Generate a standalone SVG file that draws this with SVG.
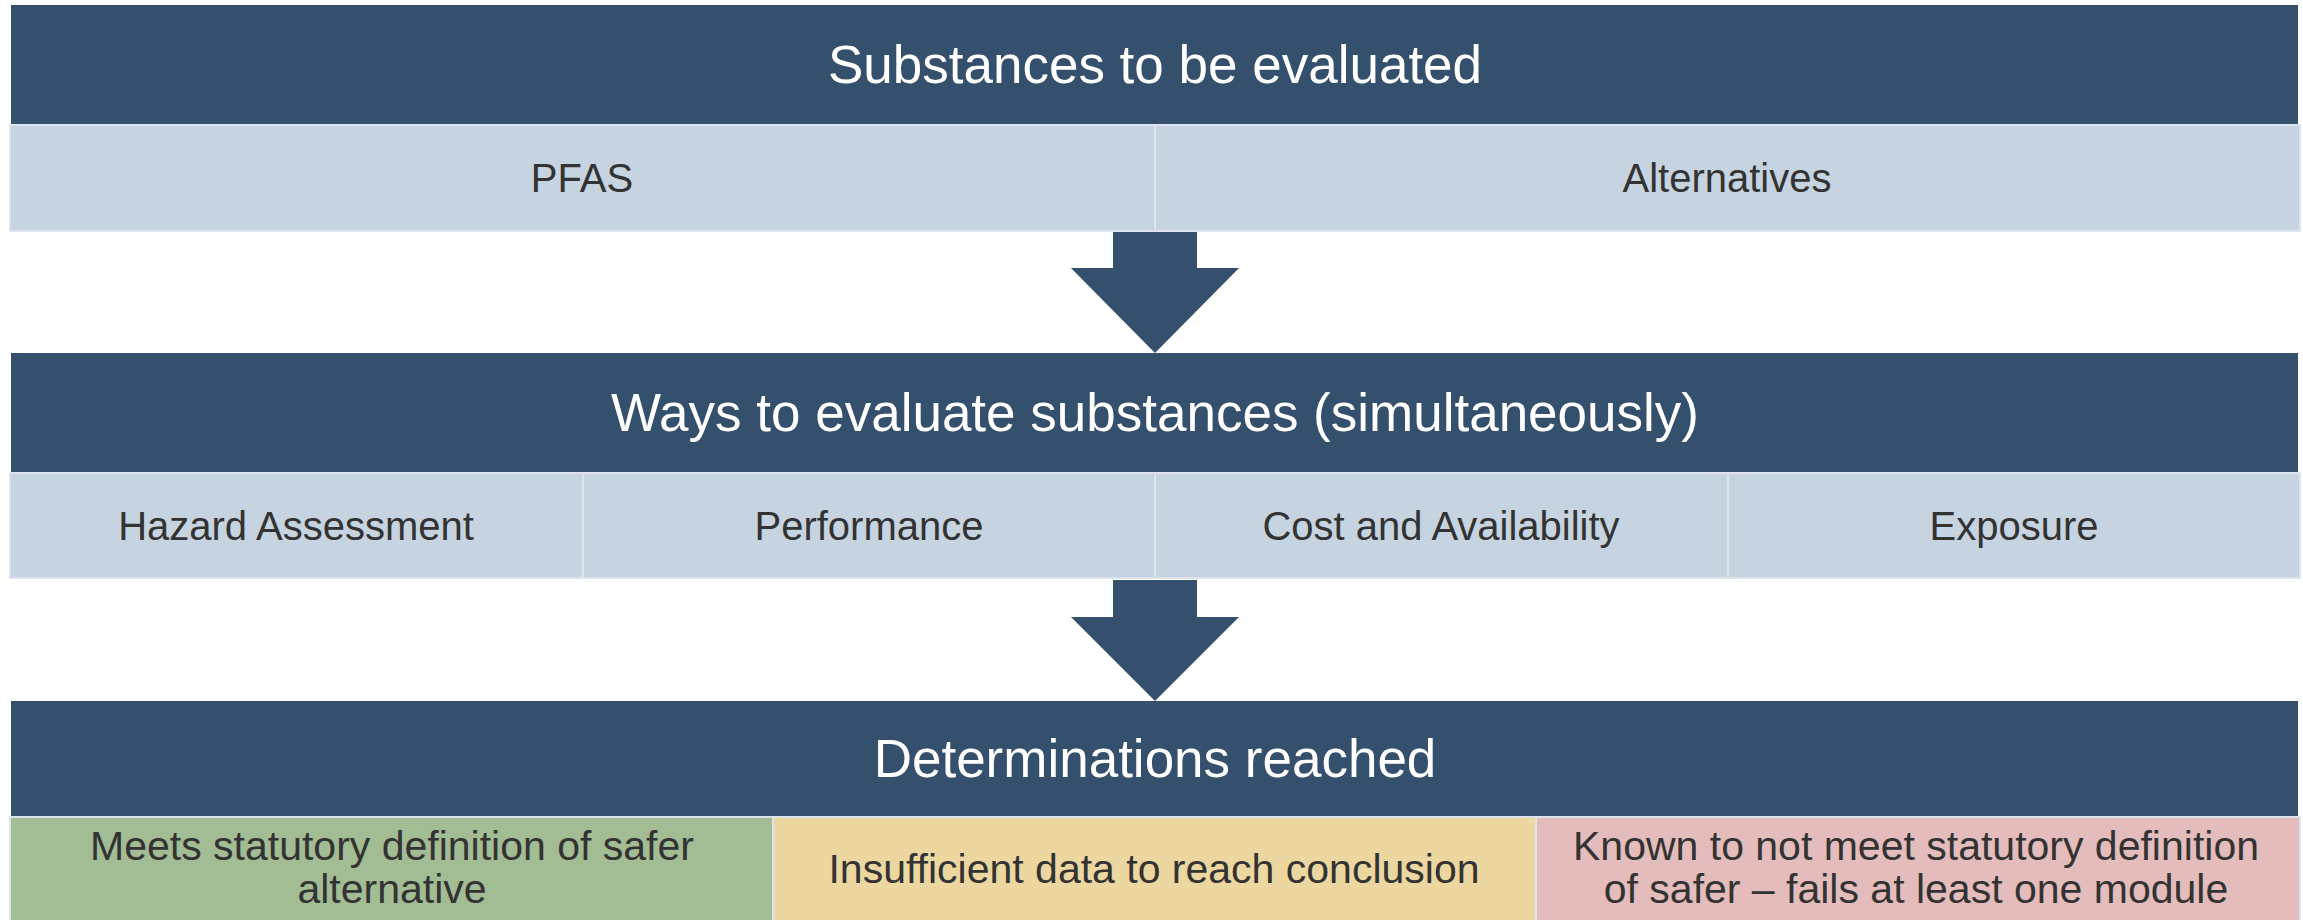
<svg xmlns="http://www.w3.org/2000/svg" width="2303" height="920" viewBox="0 0 2303 920">
  <style>
    .hdr { fill: #34506c; }
    .cell { fill: #c6d3e1; stroke: #dde4ee; stroke-width: 2; }
    .green { fill: #a2bc93; stroke: #dde4ee; stroke-width: 2; }
    .yellow { fill: #ebd79f; stroke: #dde4ee; stroke-width: 2; }
    .pink { fill: #e4bcbc; stroke: #dde4ee; stroke-width: 2; }
    .title { font-family: "Liberation Sans", Arial, sans-serif; font-size: 53px; fill: #ffffff; text-anchor: middle; }
    .lbl { font-family: "Liberation Sans", Arial, sans-serif; font-size: 40px; fill: #333333; text-anchor: middle; }
    .lbl2 { font-family: "Liberation Sans", Arial, sans-serif; font-size: 41px; fill: #333333; text-anchor: middle; }
    .arrow { fill: #34506c; }
  </style>
  <rect width="2303" height="920" fill="#ffffff"/>

  <g id="section1">
    <rect class="hdr" x="11" y="5" width="2287" height="120"/>
    <text class="title" x="1155" y="83">Substances to be evaluated</text>
  </g>
  <g id="pfas">
    <rect class="cell" x="10" y="125" width="1145" height="106"/>
    <text class="lbl" x="582" y="192">PFAS</text>
  </g>
  <g id="alternatives">
    <rect class="cell" x="1155" y="125" width="1145" height="106"/>
    <text class="lbl" x="1727" y="192">Alternatives</text>
  </g>

  <g id="section2">
    <rect class="hdr" x="11" y="353" width="2287" height="120"/>
    <text class="title" x="1155" y="431">Ways to evaluate substances (simultaneously)</text>
  </g>
  <g id="hazard">
    <rect class="cell" x="10" y="473" width="573" height="105"/>
    <text class="lbl" x="296" y="540">Hazard Assessment</text>
  </g>
  <g id="performance">
    <rect class="cell" x="583" y="473" width="572" height="105"/>
    <text class="lbl" x="869" y="540">Performance</text>
  </g>
  <g id="cost">
    <rect class="cell" x="1155" y="473" width="573" height="105"/>
    <text class="lbl" x="1441" y="540">Cost and Availability</text>
  </g>
  <g id="exposure">
    <rect class="cell" x="1728" y="473" width="572" height="105"/>
    <text class="lbl" x="2014" y="540">Exposure</text>
  </g>

  <g id="section3">
    <rect class="hdr" x="11" y="701" width="2287" height="116"/>
    <text class="title" x="1155" y="777">Determinations reached</text>
  </g>
  <g id="meets">
    <rect class="green" x="10" y="817" width="763" height="110"/>
    <text class="lbl2" x="392" y="860">Meets statutory definition of safer</text>
    <text class="lbl2" x="392" y="903">alternative</text>
  </g>
  <g id="insufficient">
    <rect class="yellow" x="773" y="817" width="763" height="110"/>
    <text class="lbl2" x="1154" y="883">Insufficient data to reach conclusion</text>
  </g>
  <g id="known">
    <rect class="pink" x="1536" y="817" width="764" height="110"/>
    <text class="lbl2" x="1916" y="860">Known to not meet statutory definition</text>
    <text class="lbl2" x="1916" y="903">of safer – fails at least one module</text>
  </g>

  <g id="connectors">
    <polygon class="arrow" points="1113,232 1197,232 1197,268 1239,268 1155,353 1071,268 1113,268"/>
    <polygon class="arrow" points="1113,580 1197,580 1197,617 1239,617 1155,701 1071,617 1113,617"/>
  </g>
</svg>
